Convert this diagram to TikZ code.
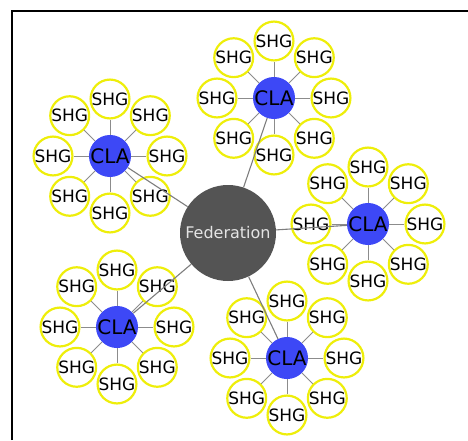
\documentclass[tikz,border=0pt]{standalone}
\usepackage{fontspec}
\setsansfont{DejaVu Sans}
\usepackage{tikz}
\usetikzlibrary{calc}

\definecolor{fedgray}{RGB}{84,84,84}
\definecolor{fedtext}{RGB}{228,228,228}
\definecolor{clablue}{RGB}{61,72,246}
\definecolor{shgyellow}{RGB}{238,238,10}
\definecolor{linkgray}{RGB}{140,140,140}

\tikzset{
    fed/.style={circle, fill=fedgray, text=fedtext, minimum size=96pt, inner sep=0pt,
        font=\sffamily\fontsize{16}{16}\selectfont},
    cla/.style={circle, fill=clablue, text=black, minimum size=40pt, inner sep=0pt,
        font=\sffamily\fontsize{20}{20}\selectfont},
    shg/.style={circle, draw=shgyellow, line width=2.2pt, fill=white, minimum size=37pt,
        inner sep=0pt, font=\sffamily\fontsize{17}{17}\selectfont},
    spoke/.style={draw=linkgray, line width=1pt},
    link/.style={draw=linkgray!90!black, line width=1.1pt},
}

\begin{document}
\begin{tikzpicture}[x=1pt,y=-1pt]
\useasboundingbox (0,0) rectangle (468,440);
\draw[line width=2pt] (11.5,440) -- (11.5,10.5) -- (468,10.5);

\node[fed] (fed) at (228,233) {Federation};

% one CLA with eight SHGs round it
\foreach \n/\x/\y in {1/274/98, 2/110/156, 3/368/224, 4/117/327, 5/287/358} {
    \node[cla] (cla\n) at (\x,\y) {CLA};
    \foreach \k in {0,...,7}
        \node[shg] (shg\n-\k) at ($(cla\n)+(\k*45:57pt)$) {SHG};
}

\foreach \n in {1,...,5} {
    \foreach \k in {0,...,7}
        \draw[spoke] (cla\n) -- (shg\n-\k);
    \draw[link] (fed) -- (cla\n);
}
\end{tikzpicture}
\end{document}
